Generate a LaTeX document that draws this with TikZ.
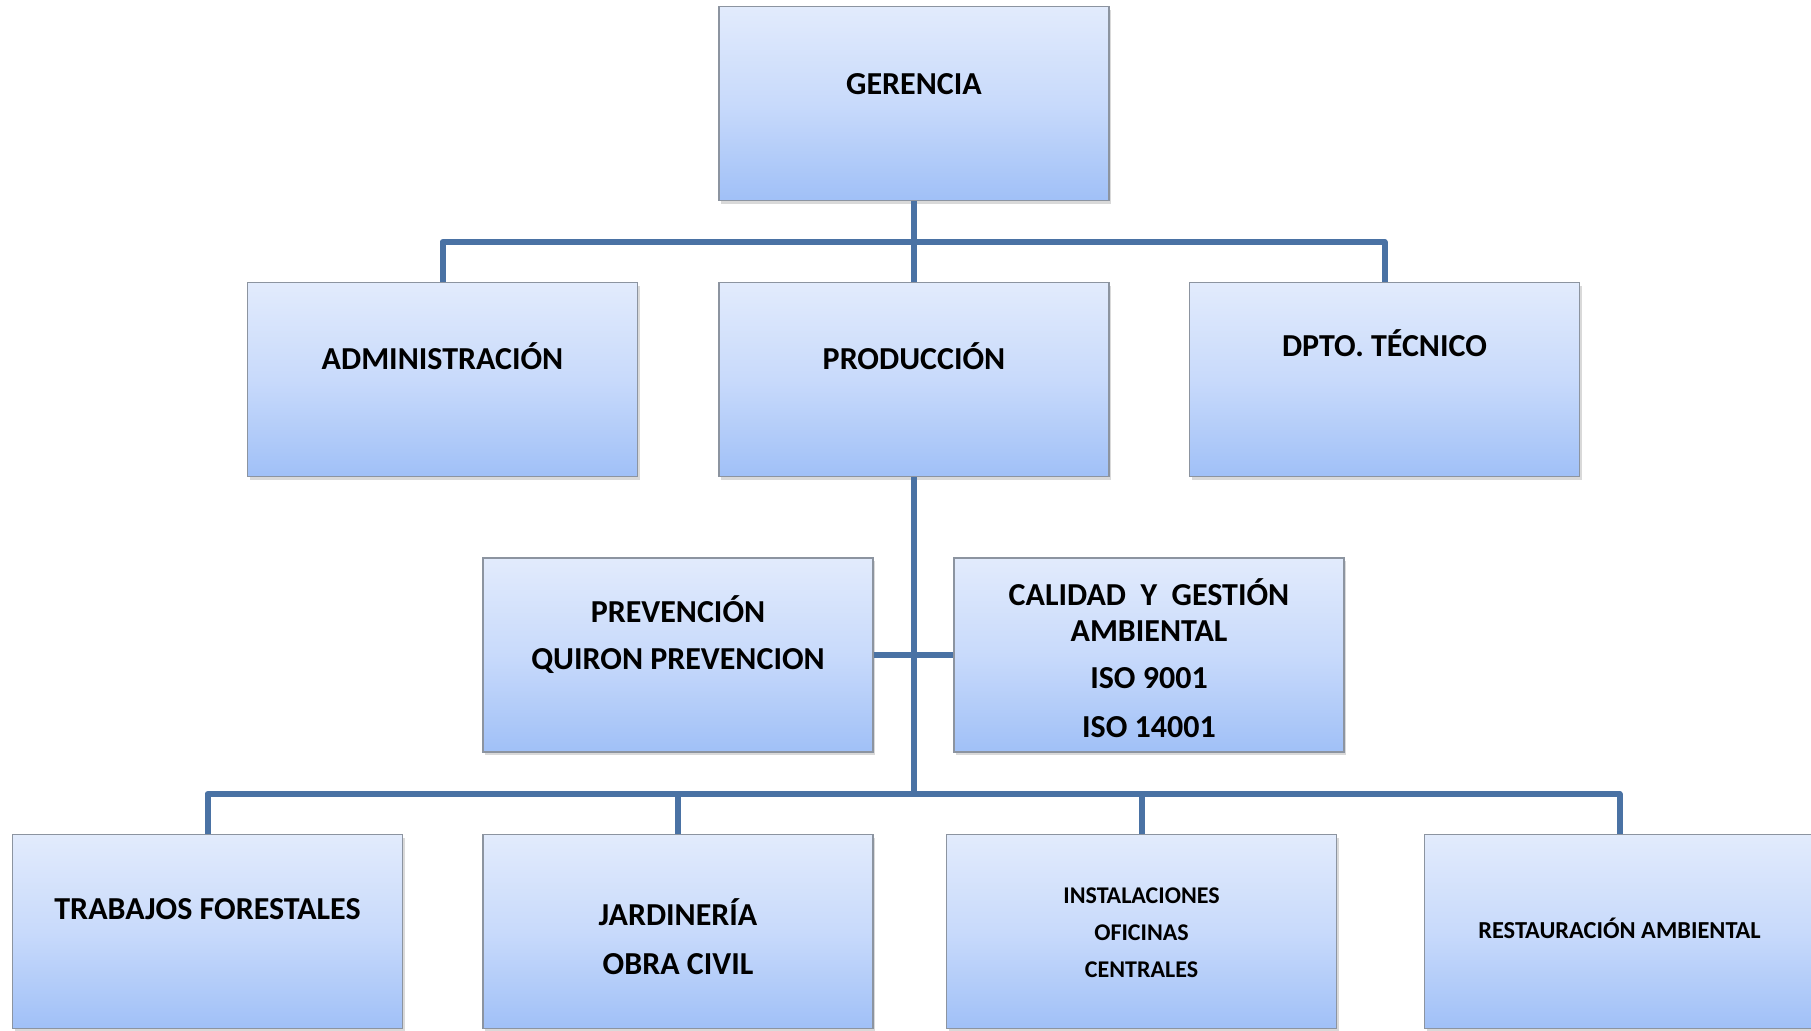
\documentclass[tikz,border=0pt]{standalone}
\usepackage{fontspec}
\setmainfont{Carlito}
\usetikzlibrary{shadows}

\definecolor{linkblue}{RGB}{74,114,164}
\definecolor{boxtop}{RGB}{226,235,252}
\definecolor{boxmid}{RGB}{200,218,251}
\definecolor{boxbot}{RGB}{160,192,247}
\definecolor{boxline}{RGB}{140,148,160}

\tikzset{
	unit/.style={draw=boxline, line width=0.6pt, inner sep=0pt,
		minimum width=195pt, minimum height=97pt,
		top color=boxtop, bottom color=boxbot, middle color=boxmid,
		drop shadow={opacity=0.3, shadow xshift=1.2pt, shadow yshift=-1.5pt}},
	link/.style={draw=linkblue, line width=3pt, line join=round},
	bigtext/.style={anchor=base, inner sep=0pt, font=\fontsize{16}{19}\selectfont\bfseries},
	smalltext/.style={anchor=base, inner sep=0pt, font=\fontsize{12.2}{14}\selectfont\bfseries},
	tinytext/.style={anchor=base, inner sep=0pt, font=\fontsize{12}{14}\selectfont\bfseries}
}

\begin{document}
\begin{tikzpicture}[x=0.5pt, y=-0.5pt]
	\useasboundingbox (0,0) rectangle (1811,1030);

	% boxes
	\node[unit] (ger) at (914,103.5) {};
	\node[unit] (adm) at (442.5,379.5) {};
	\node[unit] (prod) at (914,379.5) {};
	\node[unit] (dpto) at (1384.5,379.5) {};
	\node[unit] (prev) at (678,655) {};
	\node[unit] (cal) at (1149,655) {};
	\node[unit] (trab) at (207.5,931.5) {};
	\node[unit] (jard) at (678,931.5) {};
	\node[unit] (inst) at (1141.5,931.5) {};
	\node[unit] (rest) at (1619.5,931.5) {};

	% texts
	\node[bigtext] (ger-t) at (914,94) {GERENCIA};
	\node[bigtext] (adm-t) at (442.5,369) {ADMINISTRACIÓN};
	\node[bigtext] (prod-t) at (914,369) {PRODUCCIÓN};
	\node[bigtext] (dpto-t) at (1384.5,356) {DPTO. TÉCNICO};
	\node[bigtext] (prev-1) at (678,622) {PREVENCIÓN};
	\node[bigtext] (prev-2) at (678,669) {QUIRON PREVENCION};
	\node[bigtext] (cal-1) at (1149,605) {CALIDAD\ \ Y\ \ GESTIÓN};
	\node[bigtext] (cal-2) at (1149,641) {AMBIENTAL};
	\node[bigtext] (cal-3) at (1149,688) {ISO 9001};
	\node[bigtext] (cal-4) at (1149,737) {ISO 14001};
	\node[bigtext] (trab-t) at (207.5,919) {TRABAJOS FORESTALES};
	\node[bigtext] (jard-1) at (678,925) {JARDINERÍA};
	\node[bigtext] (jard-2) at (678,974) {OBRA CIVIL};
	\node[tinytext] (inst-1) at (1141.5,903) {INSTALACIONES};
	\node[tinytext] (inst-2) at (1141.5,940) {OFICINAS};
	\node[tinytext] (inst-3) at (1141.5,977) {CENTRALES};
	\node[smalltext] (rest-t) at (1619.5,938) {RESTAURACIÓN AMBIENTAL};

	% links
	\coordinate (top) at (914,242);
	\coordinate (bot) at (914,794);
	\draw[link] (ger) -- (prod);
	\draw[link] (adm.north) |- (top) -| (dpto.north);
	\draw[link] (prod) -- (bot);
	\draw[link] (prev) -- (cal);
	\draw[link] (trab.north) |- (bot) -| (rest.north);
	\draw[link] (jard.north) -- (jard.north |- bot);
	\draw[link] (inst.north) -- (inst.north |- bot);
\end{tikzpicture}
\end{document}
